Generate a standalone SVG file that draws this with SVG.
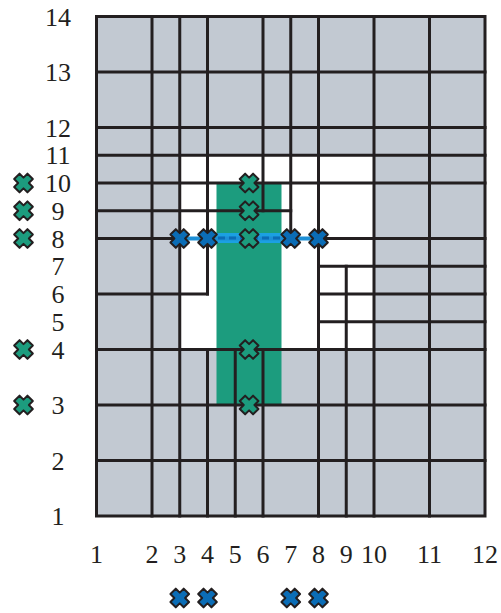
<svg xmlns="http://www.w3.org/2000/svg" width="501" height="613" viewBox="0 0 501 613">
<style>
.g{stroke:#231f20;stroke-width:3;fill:none;stroke-linecap:square}
.lbl{font-family:"Liberation Serif","DejaVu Serif",serif;font-size:26px;fill:#231f20;text-anchor:middle}
.xg{fill:#1c9c7e;stroke:#231f20;stroke-width:2;stroke-linejoin:round}
.xb{fill:#0b6db6;stroke:#231f20;stroke-width:2;stroke-linejoin:round}
</style>
<defs>
<path id="cross" d="M-3.96,9.33 L0,5.37 L3.96,9.33 L9.33,3.96 L5.37,0 L9.33,-3.96 L3.96,-9.33 L0,-5.37 L-3.96,-9.33 L-9.33,-3.96 L-5.37,0 L-9.33,3.96 Z"/>
</defs>
<g id="regions">
<rect x="96.5" y="16.5" width="388.5" height="499.5" fill="#c2c9d2"/>
<rect x="179.75" y="155.25" width="194.25" height="194.25" fill="#ffffff"/>
<rect id="green-region" x="216.5" y="183" width="65" height="222" fill="#1c9c7e"/>
<rect id="blue-band" x="216.5" y="233" width="65" height="10" fill="#1ba0e2"/>
</g>
<g id="gridlines" class="g">
<rect x="96.5" y="16.5" width="388.5" height="499.5"/>
<path d="M152,16.5V516 M179.75,16.5V516 M207.5,16.5V294 M207.5,349.5V516 M235.25,349.5V516 M263,16.5V210.75 M263,349.5V516 M290.75,16.5V238.5 M318.5,16.5V516 M346.25,266.25V516 M374,16.5V516 M429.5,16.5V516"/>
<path d="M96.5,72H485 M96.5,127.5H485 M96.5,155.25H485 M96.5,183H485 M96.5,210.75H290.75 M96.5,238.5H179.75 M318.5,238.5H485 M318.5,266.25H485 M96.5,294H207.5 M318.5,294H485 M318.5,321.75H485 M96.5,349.5H485 M96.5,405H485 M96.5,460.5H485"/>
</g>
<g id="path-8">
<line x1="179.75" y1="238.5" x2="318.5" y2="238.5" stroke="#1d8fd6" stroke-width="4"/>
<line x1="218" y1="238" x2="281" y2="238" stroke="#0b6db6" stroke-width="3" stroke-dasharray="7 4"/>
</g>
<g id="y-labels" class="lbl">
<text x="58" y="25.5">14</text>
<text x="58" y="81">13</text>
<text x="58" y="136.5">12</text>
<text x="58" y="164">11</text>
<text x="58" y="192">10</text>
<text x="58" y="219.5">9</text>
<text x="58" y="247.5">8</text>
<text x="58" y="275">7</text>
<text x="58" y="303">6</text>
<text x="58" y="330.5">5</text>
<text x="58" y="358.5">4</text>
<text x="58" y="414">3</text>
<text x="58" y="469.5">2</text>
<text x="58" y="525">1</text>
</g>
<g id="x-labels" class="lbl">
<text x="96.5" y="563">1</text>
<text x="152" y="563">2</text>
<text x="179.75" y="563">3</text>
<text x="207.5" y="563">4</text>
<text x="235.25" y="563">5</text>
<text x="263" y="563">6</text>
<text x="290.75" y="563">7</text>
<text x="318.5" y="563">8</text>
<text x="346.25" y="563">9</text>
<text x="374" y="563">10</text>
<text x="429.5" y="563">11</text>
<text x="485" y="563">12</text>
</g>
<g id="grid-markers">
<use href="#cross" class="xb" x="179.75" y="238.5"/>
<use href="#cross" class="xb" x="207.5" y="238.5"/>
<use href="#cross" class="xb" x="290.75" y="238.5"/>
<use href="#cross" class="xb" x="318.5" y="238.5"/>
<use href="#cross" class="xg" x="249.1" y="183"/>
<use href="#cross" class="xg" x="249.1" y="210.75"/>
<use href="#cross" class="xg" x="249.1" y="238.5"/>
<use href="#cross" class="xg" x="249.1" y="349.5"/>
<use href="#cross" class="xg" x="249.1" y="405"/>
</g>
<g id="left-markers">
<use href="#cross" class="xg" x="23.5" y="183"/>
<use href="#cross" class="xg" x="23.5" y="210.75"/>
<use href="#cross" class="xg" x="23.5" y="238.5"/>
<use href="#cross" class="xg" x="23.5" y="349.5"/>
<use href="#cross" class="xg" x="23.5" y="405"/>
</g>
<g id="bottom-markers">
<use href="#cross" class="xb" x="179.75" y="598"/>
<use href="#cross" class="xb" x="207.5" y="598"/>
<use href="#cross" class="xb" x="290.75" y="598"/>
<use href="#cross" class="xb" x="318.5" y="598"/>
</g>
</svg>
